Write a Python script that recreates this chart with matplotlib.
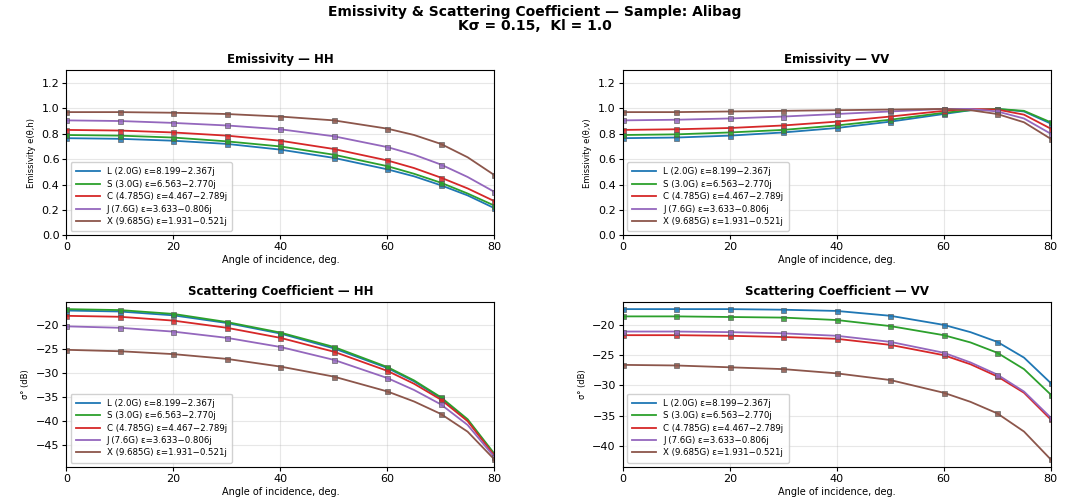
import matplotlib

matplotlib.use("Agg")
import matplotlib.pyplot as plt

# Incidence angles where values were read; markers only at multiples of 10 deg
angles = [0, 10, 20, 30, 40, 50, 60, 65, 70, 75, 80]
marker_idx = [0, 1, 2, 3, 4, 5, 6, 8, 10]

bands = [
    "L (2.0G) ε=8.199−2.367j",
    "S (3.0G) ε=6.563−2.770j",
    "C (4.785G) ε=4.467−2.789j",
    "J (7.6G) ε=3.633−0.806j",
    "X (9.685G) ε=1.931−0.521j",
]
colors = ["#1f77b4", "#2ca02c", "#d62728", "#9467bd", "#8c564b"]

# Emissivity, HH
e_hh_L = [0.765, 0.760, 0.745, 0.720, 0.675, 0.610, 0.520, 0.465, 0.395, 0.315, 0.215]
e_hh_S = [0.790, 0.785, 0.770, 0.740, 0.700, 0.635, 0.545, 0.485, 0.415, 0.330, 0.235]
e_hh_C = [0.830, 0.825, 0.810, 0.785, 0.745, 0.680, 0.590, 0.530, 0.455, 0.370, 0.270]
e_hh_J = [0.905, 0.900, 0.885, 0.865, 0.835, 0.780, 0.695, 0.635, 0.558, 0.460, 0.343]
e_hh_X = [0.970, 0.970, 0.965, 0.955, 0.935, 0.905, 0.840, 0.790, 0.720, 0.615, 0.475]

# Emissivity, VV
e_vv_L = [0.765, 0.770, 0.785, 0.810, 0.845, 0.895, 0.955, 0.985, 0.995, 0.975, 0.880]
e_vv_S = [0.790, 0.795, 0.810, 0.830, 0.865, 0.910, 0.965, 0.985, 0.995, 0.980, 0.890]
e_vv_C = [0.830, 0.835, 0.845, 0.865, 0.895, 0.935, 0.980, 0.995, 0.990, 0.950, 0.840]
e_vv_J = [0.905, 0.910, 0.920, 0.935, 0.955, 0.975, 0.995, 0.995, 0.975, 0.920, 0.800]
e_vv_X = [0.970, 0.970, 0.975, 0.980, 0.985, 0.990, 0.995, 0.985, 0.955, 0.890, 0.760]

# Scattering coefficient (dB), HH
s_hh_L = [-16.9, -17.1, -17.9, -19.5, -21.7, -24.8, -28.9, -31.7, -35.2, -39.8, -47.0]
s_hh_S = [-16.6, -16.8, -17.6, -19.3, -21.5, -24.5, -28.7, -31.5, -35.0, -39.6, -46.8]
s_hh_C = [-18.0, -18.2, -19.0, -20.5, -22.6, -25.5, -29.5, -32.2, -35.5, -40.0, -47.2]
s_hh_J = [-20.2, -20.5, -21.3, -22.6, -24.5, -27.2, -31.0, -33.5, -36.5, -40.8, -47.5]
s_hh_X = [-25.1, -25.4, -26.0, -27.0, -28.6, -30.7, -33.8, -35.9, -38.5, -42.2, -48.0]

# Scattering coefficient (dB), VV
s_vv_L = [-17.4, -17.4, -17.4, -17.5, -17.7, -18.5, -20.0, -21.2, -22.8, -25.4, -29.6]
s_vv_S = [-18.6, -18.6, -18.7, -18.8, -19.2, -20.2, -21.7, -22.9, -24.6, -27.3, -31.5]
s_vv_C = [-21.7, -21.7, -21.8, -22.0, -22.3, -23.3, -25.0, -26.5, -28.5, -31.2, -35.6]
s_vv_J = [-21.1, -21.1, -21.2, -21.4, -21.8, -22.8, -24.6, -26.2, -28.2, -31.0, -35.3]
s_vv_X = [-26.6, -26.7, -27.0, -27.3, -28.0, -29.1, -31.2, -32.7, -34.6, -37.6, -42.2]

panels = [
    ("Emissivity — HH", "Emissivity e(θ,h)", [e_hh_L, e_hh_S, e_hh_C, e_hh_J, e_hh_X]),
    ("Emissivity — VV", "Emissivity e(θ,v)", [e_vv_L, e_vv_S, e_vv_C, e_vv_J, e_vv_X]),
    ("Scattering Coefficient — HH", "σ° (dB)", [s_hh_L, s_hh_S, s_hh_C, s_hh_J, s_hh_X]),
    ("Scattering Coefficient — VV", "σ° (dB)", [s_vv_L, s_vv_S, s_vv_C, s_vv_J, s_vv_X]),
]

fig, axes = plt.subplots(2, 2, figsize=(10.7, 5.01), dpi=100)
fig.subplots_adjust(left=0.062, right=0.982, top=0.86, bottom=0.068,
                    wspace=0.3, hspace=0.4)

for ax, (title, ylabel, series) in zip(axes.flat, panels):
    for name, col, vals in zip(bands, colors, series):
        ax.plot(angles, vals, "-", color=col, linewidth=1.3, label=name)
        ax.plot([angles[i] for i in marker_idx], [vals[i] for i in marker_idx], "s",
                color=col, markersize=3.6, markeredgecolor="#555555",
                markeredgewidth=0.5, alpha=0.85)
    ax.set_title(title, fontsize=8.5, fontweight="bold", pad=5)
    ax.set_ylabel(ylabel, fontsize=6)
    ax.set_xlabel("Angle of incidence, deg.", fontsize=7, labelpad=2)
    ax.set_xlim(0, 80)
    ax.set_xticks([0, 20, 40, 60, 80])
    ax.tick_params(labelsize=8, length=3, pad=2)
    ax.grid(True, alpha=0.3)
    ax.legend(loc="lower left", fontsize=6.2, handlelength=2.8,
              labelspacing=0.4, borderpad=0.6, framealpha=0.9)

for ax in axes[0]:
    ax.set_ylim(0, 1.3)
    ax.set_yticks([0.0, 0.2, 0.4, 0.6, 0.8, 1.0, 1.2])

fig.suptitle("Emissivity & Scattering Coefficient — Sample: Alibag\nKσ = 0.15,  Kl = 1.0",
             fontsize=10, fontweight="bold", y=0.99, linespacing=1.0)

fig.savefig("out.png", dpi=100)
plt.close(fig)
